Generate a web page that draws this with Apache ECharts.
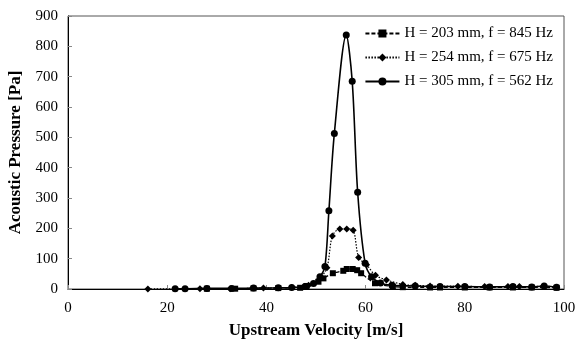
<!DOCTYPE html>
<html>
<head>
<meta charset="utf-8">
<script src="https://cdn.jsdelivr.net/npm/echarts@6/dist/echarts.min.js"></script>
<style>html,body{margin:0;padding:0;background:#fff}#c{width:576px;height:339px}</style>
</head>
<body>
<div id="c"></div>
<script>
var seriesNames = ['H = 203 mm, f = 845 Hz', 'H = 254 mm, f = 675 Hz', 'H = 305 mm, f = 562 Hz'];

var v203 = [28, 33.7, 37.4, 42.4, 46.8, 48.1, 50.5, 51.5, 53.4, 55.5, 56.2, 57.4, 58.3, 59.1, 61.9, 65.5, 67.5, 73, 75, 80, 85, 89.7, 93.5, 98.5];
var p203 = [1, 1, 2, 3, 4, 10, 24, 35, 52, 60, 66, 66, 62, 52, 19, 8, 6, 5, 5, 5, 5, 5, 5, 4];

var v254 = [16.1, 26.6, 32.7, 39.4, 45.1, 48.5, 50.5, 52.2, 53.3, 54.8, 56.2, 57.5, 58.6, 60.2, 62, 64.2, 67.5, 70, 73, 78.6, 84, 88.7, 91, 95.8];
var p254 = [0, 1, 1, 3, 5, 12, 30, 70, 175, 198, 198, 194, 104, 80, 45, 30, 15, 12, 10, 9, 8, 8, 8, 9];

var v305 = [21.6, 23.6, 28, 33, 37.4, 42.4, 45.1, 47.8, 49.5, 50.8, 51.8, 52.6, 53.7, 56.1, 57.3, 58.4, 59.9, 61.2, 63, 65.3, 70, 75, 80, 85, 89.7, 93.5, 96, 98.5];
var p305 = [1, 1, 2, 2, 3, 4, 5, 8, 18, 40, 74, 258, 513, 837, 685, 319, 85, 40, 20, 12, 10, 8, 8, 7, 8, 7, 10, 6];

var xTicks = [0, 20, 40, 60, 80, 100];
var yTicks = [0, 100, 200, 300, 400, 500, 600, 700, 800, 900];

function pairs(xs, ys) { return xs.map(function (x, i) { return [x, ys[i]]; }); }

var font = '"Liberation Serif", "Times New Roman", serif';
var chart = echarts.init(document.getElementById('c'), null, { renderer: 'canvas' });
chart.setOption({
  animation: false,
  backgroundColor: '#fff',
  textStyle: { fontFamily: font },
  grid: { left: 68, right: 12, top: 16, bottom: 50, containLabel: false, outerBoundsMode: 'none', show: true, borderColor: '#555', borderWidth: 1, backgroundColor: 'transparent' },
  legend: {
    orient: 'vertical', right: 18, top: 21, itemWidth: 34, itemHeight: 10, itemGap: 9,
    textStyle: { fontFamily: font, fontSize: 15, color: '#000' },
    data: seriesNames
  },
  xAxis: {
    type: 'value', min: xTicks[0], max: xTicks[xTicks.length - 1], interval: 20,
    name: 'Upstream Velocity [m/s]', nameLocation: 'middle', nameGap: 33,
    nameTextStyle: { fontFamily: font, fontSize: 17, fontWeight: 'bold', color: '#000' },
    axisLine: { lineStyle: { color: '#000', width: 1 } },
    axisTick: { inside: true, length: 4, lineStyle: { color: '#888' } },
    axisLabel: { fontFamily: font, fontSize: 15, color: '#000', margin: 12 },
    splitLine: { show: false }
  },
  yAxis: {
    type: 'value', min: yTicks[0], max: yTicks[yTicks.length - 1], interval: 100,
    name: 'Acoustic Pressure [Pa]', nameLocation: 'middle', nameGap: 42,
    nameTextStyle: { fontFamily: font, fontSize: 17, fontWeight: 'bold', color: '#000' },
    axisLine: { show: true, lineStyle: { color: '#000', width: 1 } },
    axisTick: { show: true, inside: true, length: 4, lineStyle: { color: '#888' } },
    axisLabel: { fontFamily: font, fontSize: 15, color: '#000', margin: 10 },
    splitLine: { show: false }
  },
  series: [
    {
      name: seriesNames[0], type: 'line', smooth: 0.3, data: pairs(v203, p203),
      symbol: 'rect', symbolSize: 6, itemStyle: { color: '#000' },
      lineStyle: { color: '#000', width: 1.2, type: [4, 2] }, z: 3
    },
    {
      name: seriesNames[1], type: 'line', smooth: 0.3, data: pairs(v254, p254),
      symbol: 'diamond', symbolSize: 7, itemStyle: { color: '#000' },
      lineStyle: { color: '#000', width: 1.2, type: [1.5, 1.5] }, z: 3
    },
    {
      name: seriesNames[2], type: 'line', smooth: 0.3, data: pairs(v305, p305),
      symbol: 'circle', symbolSize: 7, itemStyle: { color: '#000' },
      lineStyle: { color: '#000', width: 1.6, type: 'solid' }, z: 4
    }
  ]
});
</script>
</body>
</html>
